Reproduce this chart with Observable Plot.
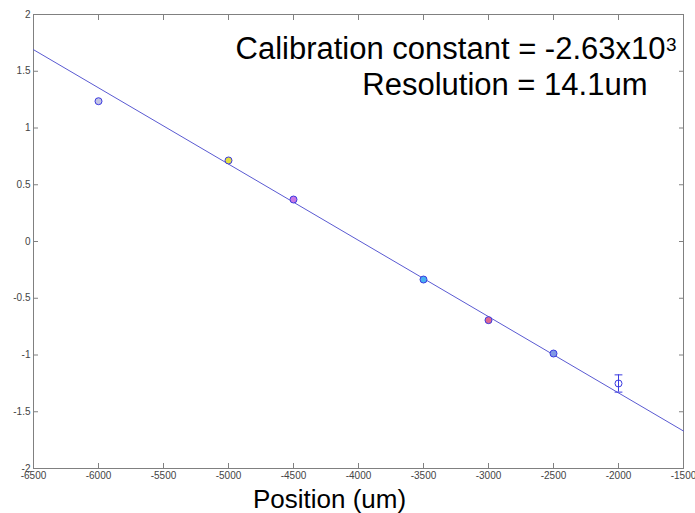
<!DOCTYPE html>
<html>
<head>
<meta charset="utf-8">
<script src="https://cdn.jsdelivr.net/npm/d3@7"></script>
<script src="https://cdn.jsdelivr.net/npm/@observablehq/plot@0.6"></script>
<style>
  html, body { margin: 0; padding: 0; background: #fff; }
  #chart svg { display: block; }
</style>
</head>
<body>
<div id="chart"></div>
<script>
// Stage position (um) and measured signal
const positions = [-6000, -5000, -4500, -3500, -3000, -2500, -2000];
const signal = [1.236, 0.714, 0.37, -0.335, -0.693, -0.987, -1.251];
const errorBar = [0, 0, 0, 0, 0, 0, 0.076];
const markerFill = ["#c4c4e4", "#e4e040", "#c878e4", "#48b0f0", "#e06890", "#8098e4", "none"];

// Linear fit endpoints
const fitX = [-6500, -1500];
const fitY = [1.69, -1.67];

// Axis ticks
const xTicks = [-6500, -6000, -5500, -5000, -4500, -4000, -3500, -3000, -2500, -2000, -1500];
const yTicks = [-2, -1.5, -1, -0.5, 0, 0.5, 1, 1.5, 2];

const titleLine1 = "Calibration constant = -2.63x10";
const titleSup = "3";
const titleLine2 = "Resolution = 14.1um";
const xLabel = "Position (um)";

const points = positions.map((x, i) => ({x, y: signal[i], err: errorBar[i], fill: markerFill[i]}));
const fit = fitX.map((x, i) => ({x, y: fitY[i]}));
const bars = points.filter(d => d.err > 0);

const axisGray = "#808080";
const labelGray = "#444";
const fmt = d => String(d);
const markerBlue = "#3a3ae0";

// plain straight segment used for the error-bar caps
const capShape = {
  draw(context, length) {
    context.moveTo(0, 0);
    context.lineTo(0, -length);
  }
};

const chart = Plot.plot({
  width: 695,
  height: 513,
  marginLeft: 33,
  marginRight: 12,
  marginTop: 14,
  marginBottom: 45,
  style: {fontFamily: "'Liberation Sans', Arial, sans-serif", background: "#fff"},
  x: {domain: [-6500, -1500]},
  y: {domain: [-2, 2]},
  marks: [
    Plot.frame({stroke: axisGray}),
    Plot.axisX(xTicks, {anchor: "bottom", tickSize: -5, tickPadding: 8, tickFormat: fmt, fontSize: 10, fill: labelGray, stroke: axisGray, label: null}),
    Plot.axisX(xTicks, {anchor: "top", tickSize: -5, fill: "none", stroke: axisGray, label: null}),
    Plot.axisY(yTicks, {anchor: "left", tickSize: -5, tickPadding: 8, tickFormat: fmt, fontSize: 10, fill: labelGray, stroke: axisGray, label: null}),
    Plot.axisY(yTicks, {anchor: "right", tickSize: -5, fill: "none", stroke: axisGray, label: null}),
    Plot.line(fit, {x: "x", y: "y", stroke: "#5a5ad2", strokeWidth: 1}),
    // error bar with caps
    Plot.ruleX(bars, {x: "x", y1: d => d.y - d.err, y2: d => d.y + d.err, stroke: markerBlue, strokeWidth: 1}),
    Plot.vector(bars, {x: "x", y: d => d.y - d.err, rotate: 90, length: 7, anchor: "middle", shape: capShape, stroke: markerBlue, strokeWidth: 1}),
    Plot.vector(bars, {x: "x", y: d => d.y + d.err, rotate: 90, length: 7, anchor: "middle", shape: capShape, stroke: markerBlue, strokeWidth: 1}),
    Plot.dot(points, {x: "x", y: "y", r: 3.5, stroke: markerBlue, strokeWidth: 1, fill: "fill"}),
    Plot.text([titleLine1], {text: d => d, frameAnchor: "top-right", textAnchor: "end", lineAnchor: "bottom", dx: -18, dy: 44, fontSize: 31, fill: "#000"}),
    Plot.text([titleSup], {text: d => d, frameAnchor: "top-right", textAnchor: "end", lineAnchor: "bottom", dx: -7, dy: 36, fontSize: 19, fill: "#000"}),
    Plot.text([titleLine2], {text: d => d, frameAnchor: "top-right", textAnchor: "end", lineAnchor: "bottom", dx: -36, dy: 80, fontSize: 31, fill: "#000"}),
    Plot.text([xLabel], {text: d => d, frameAnchor: "bottom", lineAnchor: "bottom", dx: -29, dy: 39, fontSize: 26, fill: "#000"})
  ]
});
document.getElementById("chart").appendChild(chart);
</script>
</body>
</html>
